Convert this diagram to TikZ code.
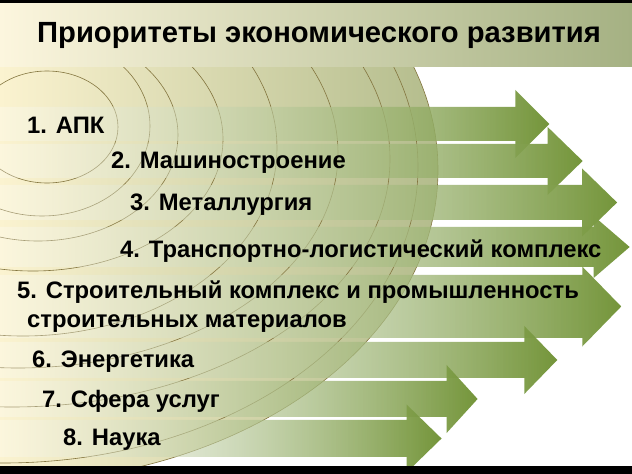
\documentclass[tikz,border=0pt]{standalone}
\usepackage{fontspec}
\setmainfont{Liberation Sans}
\usetikzlibrary{fadings}
\definecolor{ringline}{HTML}{83753F}
\definecolor{agreen}{HTML}{74953A}
\definecolor{bannerL}{HTML}{FCF6DE}
\definecolor{bannerM}{HTML}{F9E6B2}
\definecolor{bannerR}{HTML}{A5B183}
\definecolor{diskL}{HTML}{FBF3D0}
\definecolor{diskM}{HTML}{E2D99C}
\definecolor{diskR}{HTML}{B3BC8C}
\tikzfading[name=arrowfade, left color=transparent!72, right color=transparent!0]
% top, bottom, head base x, tip x, head half height
\newcommand\priorarrow[5]{%
  \shade[arrowfill] (0,#1) -- (#3,#1) -- (#3,{(#1+#2)/2-#5}) -- (#4,{(#1+#2)/2})
    -- (#3,{(#1+#2)/2+#5}) -- (#3,#2) -- (0,#2) -- cycle;}
\begin{document}
\begin{tikzpicture}[x=1pt,y=-1pt,
  ring/.style={draw=ringline, line width=0.6pt},
  arrowfill/.style={left color=white, right color=agreen, path fading=arrowfade},
  item/.style={font=\fontsize{23.8}{28}\selectfont\bfseries, inner sep=0pt, anchor=base west, text=black},
  titletext/.style={font=\fontsize{29.2}{34}\selectfont\bfseries, inner sep=0pt, anchor=base west, text=black}]
\useasboundingbox (0,0) rectangle (632,474);
\fill[white] (0,0) rectangle (632,474);
% concentric rings
\begin{scope}
  \clip (0,170) ellipse [x radius=438, y radius=313];
  \shade[left color=diskL, middle color=diskM, right color=diskR] (0,60) rectangle (440,470);
  \draw[ring] (47,127) ellipse [x radius=71, y radius=56];
  \draw[ring] (42,126) ellipse [x radius=108, y radius=90];
  \draw[ring] (38,135) ellipse [x radius=140, y radius=106];
  \draw[ring] (33,139) ellipse [x radius=190, y radius=132];
  \draw[ring] (23,148) ellipse [x radius=254, y radius=188];
  \draw[ring] (18,153) ellipse [x radius=320, y radius=215];
  \draw[ring] (12,159) ellipse [x radius=378, y radius=248];
  \draw[ring] (3,167) ellipse [x radius=415, y radius=296];
\end{scope}
\draw[ring] (0,170) ellipse [x radius=438, y radius=313];
% banner
\shade[left color=bannerL, middle color=bannerM, right color=bannerR] (0,3) rectangle (632,66);
% arrows
\priorarrow{107}{141}{516}{550}{34}
\priorarrow{144}{178}{548}{583}{34}
\priorarrow{185}{220}{583}{618}{34}
\priorarrow{227}{267}{594}{630}{31}
\priorarrow{275}{338}{583}{622}{40}
\priorarrow{342}{378}{525}{558}{34}
\priorarrow{381}{417}{447}{478}{34}
\priorarrow{420}{457}{407}{442}{34}
% black bars
\fill[black] (0,0) rectangle (632,3);
\fill[black] (0,466) rectangle (632,474);
% texts
\node[titletext] (title) at (37,42) {Приоритеты экономического развития};
\node[item] (i1) at (27,133) {1. АПК};
\node[item] (i2) at (111,168) {2. Машиностроение};
\node[item] (i3) at (130,210) {3. Металлургия};
\node[item] (i4) at (120,257) {4. Транспортно-логистический комплекс};
\node[item] (i5) at (17,298) {5. Строительный комплекс и промышленность};
\node[item] (i5b) at (27,327) {строительных материалов};
\node[item] (i6) at (32,367) {6. Энергетика};
\node[item] (i7) at (42,407) {7. Сфера услуг};
\node[item] (i8) at (63,445) {8. Наука};
\end{tikzpicture}
\end{document}
